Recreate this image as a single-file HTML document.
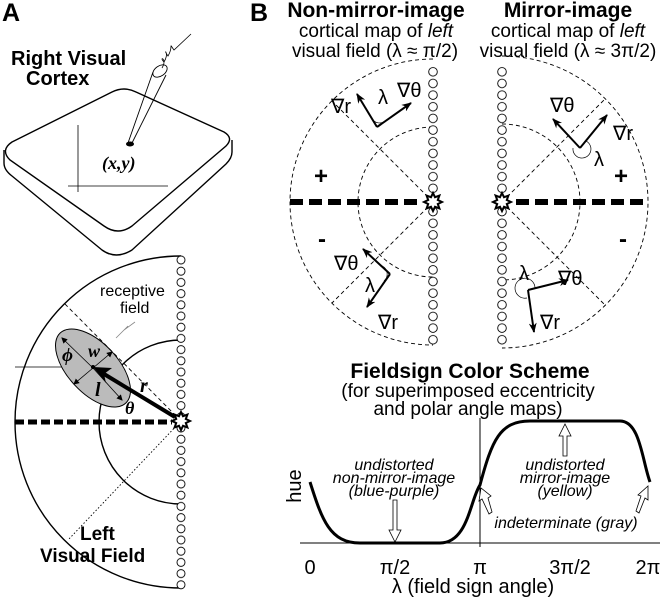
<!DOCTYPE html>
<html><head><meta charset="utf-8"><style>
html,body{margin:0;padding:0;background:#fff;}
svg{display:block;}
text{font-family:"Liberation Sans",sans-serif;fill:#000;}
.b{font-weight:bold;}
.s{font-family:"Liberation Serif",serif;}
.i{font-style:italic;}
</style></head><body>
<svg width="664" height="597" viewBox="0 0 664 597" xmlns="http://www.w3.org/2000/svg">
<defs>
<pattern id="pA" patternUnits="userSpaceOnUse" x="176" y="254.4" width="10" height="11.2"><circle cx="5" cy="5.6" r="4" fill="#fff" stroke="#000" stroke-width="0.9"/></pattern>
<pattern id="pB1" patternUnits="userSpaceOnUse" x="428" y="66" width="10" height="11.65"><circle cx="5" cy="5.8" r="4.3" fill="#fff" stroke="#000" stroke-width="0.9"/></pattern>
<pattern id="pB2" patternUnits="userSpaceOnUse" x="497" y="66" width="10" height="11.65"><circle cx="5" cy="5.8" r="4.3" fill="#fff" stroke="#000" stroke-width="0.9"/></pattern>
<marker id="ar" markerWidth="10" markerHeight="8" refX="9" refY="4" orient="auto" markerUnits="userSpaceOnUse"><path d="M0,0 L10,4 L0,8 L3,4 Z" fill="#000"/></marker>
<marker id="sa" markerWidth="6" markerHeight="6" refX="5" refY="3" orient="auto" markerUnits="userSpaceOnUse"><path d="M0,0 L6,3 L0,6 Z" fill="#000"/></marker>
<symbol id="star" viewBox="-10 -10 20 20" overflow="visible"><polygon points="0,-9 2,-4.8 6.4,-6.4 4.8,-2 9,0 4.8,2 6.4,6.4 2,4.8 0,9 -2,4.8 -6.4,6.4 -4.8,2 -9,0 -4.8,-2 -6.4,-6.4 -2,-4.8" fill="#fff" stroke="#000" stroke-width="2"/></symbol>
</defs>

<!-- Panel A -->
<text x="2" y="21" class="b" font-size="25">A</text>
<text x="11" y="65" class="b" font-size="20">Right Visual</text>
<text x="26" y="85" class="b" font-size="20">Cortex</text>
<path d="M4,150 L4,163 Q4,170 12,176 L102,250 Q116,260 132,250 L226,164 Q232,158 232,152 L232,140" fill="#fff" stroke="#000" stroke-width="1.4"/>
<path d="M12,142 L112,92 Q124,86 136,92 L224,132 Q234,138 226,146 L132,226 Q118,236 104,226 L10,160 Q0,150 12,142 Z" fill="#fff" stroke="#000" stroke-width="1.4"/>
<line x1="78" y1="125" x2="78" y2="192" stroke="#000" stroke-width="0.8"/>
<line x1="68" y1="186" x2="168" y2="186" stroke="#000" stroke-width="0.8"/>
<path d="M128,143 L153,72 M132,143 L166,75" stroke="#000" stroke-width="0.9" fill="none"/>
<ellipse cx="160" cy="71" rx="8" ry="5" transform="rotate(-35 160 71)" fill="#fff" stroke="#000" stroke-width="0.9"/>
<path d="M162,68 C168,58 158,56 164,62 C170,52 162,48 168,56 C174,46 168,42 174,50 L191,34" fill="none" stroke="#000" stroke-width="0.8"/>
<ellipse cx="130" cy="144" rx="4" ry="2.5" fill="#000"/>
<text x="102" y="169" class="s i b" font-size="18">(x,y)</text>

<path d="M181,256 A166,166 0 0 0 181,588" fill="none" stroke="#000" stroke-width="1.4"/>
<path d="M181,340 A82,82 0 0 0 181,504" fill="none" stroke="#000" stroke-width="1.4"/>
<line x1="181" y1="421" x2="64" y2="303" stroke="#000" stroke-width="0.9" stroke-dasharray="4,3"/>
<line x1="181" y1="421" x2="68" y2="540" stroke="#000" stroke-width="0.9" stroke-dasharray="1.5,2"/>
<line x1="15" y1="422" x2="172" y2="422" stroke="#000" stroke-width="5" stroke-dasharray="9,4"/>
<line x1="15" y1="367" x2="93" y2="367" stroke="#000" stroke-width="0.7"/>
<ellipse cx="93" cy="368" rx="48" ry="25" transform="rotate(47 93 368)" fill="#bbb" stroke="#000" stroke-width="1"/>
<line x1="93" y1="368" x2="62" y2="338" stroke="#000" stroke-width="0.8" marker-end="url(#sa)"/>
<line x1="93" y1="368" x2="122" y2="400" stroke="#000" stroke-width="0.8" marker-end="url(#sa)"/>
<line x1="93" y1="368" x2="112" y2="352" stroke="#000" stroke-width="0.8" marker-end="url(#sa)"/>
<line x1="93" y1="368" x2="74" y2="384" stroke="#000" stroke-width="0.8" marker-end="url(#sa)"/>
<line x1="175" y1="417" x2="104" y2="374" stroke="#000" stroke-width="4"/>
<path d="M93,367 L112,368 L104,374 L106,383 Z" fill="#000"/>
<circle cx="93" cy="367" r="2" fill="#000"/>
<path d="M135,322 L124,330 L128,326 L116,338" fill="none" stroke="#888" stroke-width="0.8"/>
<rect x="176" y="254" width="10" height="336" fill="url(#pA)"/>
<use href="#star" x="171" y="411" width="20" height="20"/>
<text x="100" y="296" font-size="16">receptive</text>
<text x="120" y="313" font-size="16">field</text>
<text x="62" y="361" class="s i b" font-size="19">ϕ</text>
<text x="88" y="357" class="s i b" font-size="18">w</text>
<text x="95" y="396" class="s i b" font-size="20">l</text>
<text x="140" y="392" class="s i b" font-size="20">r</text>
<text x="125" y="414" class="s i b" font-size="18">θ</text>
<text x="80" y="540" class="b" font-size="19">Left</text>
<text x="40" y="562" class="b" font-size="19">Visual Field</text>

<!-- Panel B -->
<text x="250" y="21" class="b" font-size="25">B</text>
<text x="376" y="17" class="b" font-size="21" text-anchor="middle">Non-mirror-image</text>
<text x="376" y="37" font-size="19" text-anchor="middle">cortical map of <tspan font-style="italic">left</tspan></text>
<text x="375" y="57" font-size="19" text-anchor="middle">visual field (λ ≈ π/2)</text>
<text x="568" y="17" class="b" font-size="21" text-anchor="middle">Mirror-image</text>
<text x="568" y="37" font-size="19" text-anchor="middle">cortical map of <tspan font-style="italic">left</tspan></text>
<text x="568" y="57" font-size="19" text-anchor="middle">visual field (λ ≈ 3π/2)</text>

<g fill="none" stroke="#000" stroke-width="0.9" stroke-dasharray="4,3">
<path d="M433,59 A143,143 0 0 0 433,345"/>
<path d="M433,127 A75,75 0 0 0 433,277"/>
<line x1="433" y1="202" x2="332" y2="101"/>
<line x1="433" y1="202" x2="332" y2="303"/>
<path d="M502,56 A146,146 0 0 1 502,348"/>
<path d="M502,124 A78,78 0 0 1 502,280"/>
<line x1="502" y1="202" x2="605" y2="99"/>
<line x1="502" y1="202" x2="605" y2="305"/>
</g>
<line x1="290" y1="202" x2="420" y2="202" stroke="#000" stroke-width="6" stroke-dasharray="13,6"/>
<line x1="516" y1="202" x2="648" y2="202" stroke="#000" stroke-width="6" stroke-dasharray="13,6"/>
<rect x="428" y="66" width="10" height="280" fill="url(#pB1)"/>
<rect x="497" y="66" width="10" height="280" fill="url(#pB2)"/>
<use href="#star" x="423" y="192" width="20" height="20"/>
<use href="#star" x="492" y="192" width="20" height="20"/>
<text x="314" y="184" class="b" font-size="24">+</text>
<text x="318" y="247" class="b" font-size="24">-</text>
<text x="614" y="184" class="b" font-size="24">+</text>
<text x="619" y="247" class="b" font-size="24">-</text>

<g stroke="#000" stroke-width="2" fill="none">
<line x1="377" y1="127" x2="357" y2="94" marker-end="url(#ar)"/>
<line x1="377" y1="127" x2="411" y2="103" marker-end="url(#ar)"/>
<line x1="390" y1="274" x2="363" y2="249" marker-end="url(#ar)"/>
<line x1="390" y1="274" x2="367" y2="307" marker-end="url(#ar)"/>
<line x1="580" y1="148" x2="553" y2="119" marker-end="url(#ar)"/>
<line x1="580" y1="148" x2="607" y2="115" marker-end="url(#ar)"/>
<line x1="528" y1="290" x2="568" y2="280" marker-end="url(#ar)"/>
<line x1="528" y1="290" x2="534" y2="332" marker-end="url(#ar)"/>
</g>
<g stroke="#000" stroke-width="0.7" fill="none">
<path d="M372,119 A9,9 0 0 0 385,121"/>
<path d="M382,266 A9,9 0 0 1 384,281"/>
<path d="M573,148 A9,9 0 1 0 586,141"/>
<path d="M535,288 A10,10 0 1 0 527,298"/>
</g>
<g class="s" font-size="20">
<text x="331" y="113">∇r</text>
<text x="378" y="104">λ</text>
<text x="397" y="97">∇θ</text>
<text x="334" y="270">∇θ</text>
<text x="365" y="292">λ</text>
<text x="378" y="329">∇r</text>
<text x="550" y="112">∇θ</text>
<text x="613" y="140">∇r</text>
<text x="594" y="166">λ</text>
<text x="519" y="280">λ</text>
<text x="558" y="285">∇θ</text>
<text x="540" y="329">∇r</text>
</g>

<!-- Graph -->
<text x="470" y="378" class="b" font-size="21" text-anchor="middle">Fieldsign Color Scheme</text>
<text x="468" y="397" font-size="19" text-anchor="middle">(for superimposed eccentricity</text>
<text x="468" y="415" font-size="19" text-anchor="middle">and polar angle maps)</text>
<line x1="300" y1="543" x2="660" y2="543" stroke="#000" stroke-width="1"/>
<line x1="480" y1="418" x2="480" y2="547" stroke="#000" stroke-width="1"/>
<path d="M310,482 C322,520 330,543 360,543 L440,543 C468,543 470,500 480,485 C492,440 500,421 530,421 L620,421 C640,421 642,460 650,482" fill="none" stroke="#000" stroke-width="3"/>
<text transform="translate(301,486) rotate(-90)" font-size="20" text-anchor="middle">hue</text>
<g class="s" font-size="20" text-anchor="middle">
<text x="310" y="574">0</text>
<text x="395" y="574">π/2</text>
<text x="480" y="574">π</text>
<text x="570" y="574">3π/2</text>
<text x="648" y="574">2π</text>
</g>
<text x="473" y="593" font-size="20" text-anchor="middle">λ (field sign angle)</text>
<g class="i" font-size="16" text-anchor="middle" fill="#222">
<text x="394" y="470">undistorted</text>
<text x="394" y="483">non-mirror-image</text>
<text x="394" y="496">(blue-purple)</text>
<text x="565" y="470">undistorted</text>
<text x="565" y="483">mirror-image</text>
<text x="565" y="496">(yellow)</text>
<text x="566" y="528">indeterminate (gray)</text>
</g>
<g fill="#fff" stroke="#000" stroke-width="0.8">
<path d="M393,500 L397,500 L397,530 L401,530 L395,542 L389,530 L393,530 Z"/>
<path d="M563,456 L567,456 L567,436 L571,436 L565,424 L559,436 L563,436 Z"/>
<path d="M492,512 L489,514 L482,499 L479,501 L481,488 L491,496 L488,498 Z"/>
<path d="M636,511 L639,513 L645,498 L648,500 L648,486 L638,495 L641,496 Z"/>
</g>
</svg>
</body></html>
